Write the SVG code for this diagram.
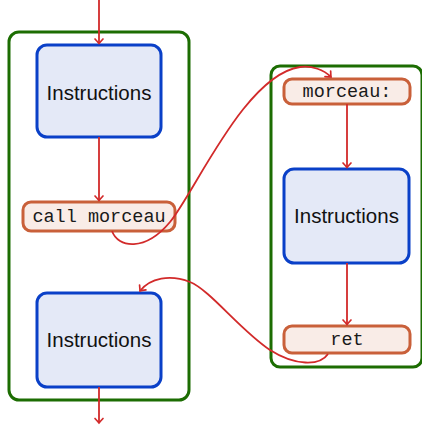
<svg xmlns="http://www.w3.org/2000/svg" width="422" height="425" viewBox="0 0 422 425">
  <defs>
    <marker id="arr" markerUnits="userSpaceOnUse" viewBox="-7 -6 9 12" markerWidth="9" markerHeight="12" refX="0" refY="0" orient="auto">
      <path d="M -4.5 -4 Q -1.5 -1.2 0 0 Q -1.5 1.2 -4.5 4" fill="none" stroke="#d22a2a" stroke-width="1.7" stroke-linecap="round"/>
    </marker>
    <style>
      .grp { fill: #ffffff; stroke: #1c6d02; stroke-width: 3; }
      .ins { fill: #e4e9f7; stroke: #0a40c8; stroke-width: 3; }
      .lbl { fill: #f9ece7; stroke: #c9603a; stroke-width: 3; }
      .sans { font-family: "Liberation Sans", "DejaVu Sans", sans-serif; font-size: 20.5px; fill: #111; text-anchor: middle; }
      .mono { font-family: "Liberation Mono", "DejaVu Sans Mono", monospace; font-size: 18.5px; fill: #1a1a1a; text-anchor: middle; }
      .con { fill: none; stroke: #d22a2a; stroke-width: 1.8; marker-end: url(#arr); }
    </style>
  </defs>
  <rect width="422" height="425" fill="#ffffff"/>

  <g id="main-block">
    <rect class="grp" x="9" y="32" width="180" height="368" rx="10"/>
  </g>
  <g id="sub-block">
    <rect class="grp" x="271" y="66" width="151" height="301" rx="9"/>
  </g>

  <g id="instr1">
    <rect class="ins" x="37" y="45" width="124" height="92" rx="10"/>
    <text class="sans" x="99" y="100">Instructions</text>
  </g>
  <g id="call">
    <rect class="lbl" x="23" y="202" width="152" height="29" rx="8"/>
    <text class="mono" x="99" y="222">call morceau</text>
  </g>
  <g id="instr3">
    <rect class="ins" x="37" y="293" width="124" height="94" rx="10"/>
    <text class="sans" x="99" y="347">Instructions</text>
  </g>
  <g id="morceau">
    <rect class="lbl" x="284" y="79" width="126" height="25" rx="8"/>
    <text class="mono" x="347" y="97">morceau:</text>
  </g>
  <g id="instr2">
    <rect class="ins" x="284" y="169" width="125" height="94" rx="10"/>
    <text class="sans" x="346.5" y="223">Instructions</text>
  </g>
  <g id="ret">
    <rect class="lbl" x="284" y="326" width="126" height="27" rx="8"/>
    <text class="mono" x="347" y="345">ret</text>
  </g>

  <g id="connectors">
    <line class="con" x1="99" y1="0" x2="99" y2="43.5"/>
    <line class="con" x1="99" y1="137" x2="99" y2="200.5"/>
    <line class="con" x1="99" y1="387" x2="99" y2="423"/>
    <line class="con" x1="347" y1="104" x2="347" y2="167.5"/>
    <line class="con" x1="347" y1="263" x2="347" y2="324.5"/>
    <path class="con" d="M 112 231 C 118 248, 145 252, 170 222 C 195 192, 245 75, 300 67 C 312 65.3, 324 70, 331 77"/>
    <path class="con" d="M 328 354 C 320 366, 295 366, 270 350 C 240 330, 210 290, 190 282 C 170 274, 150 278, 140 291"/>
  </g>
</svg>
